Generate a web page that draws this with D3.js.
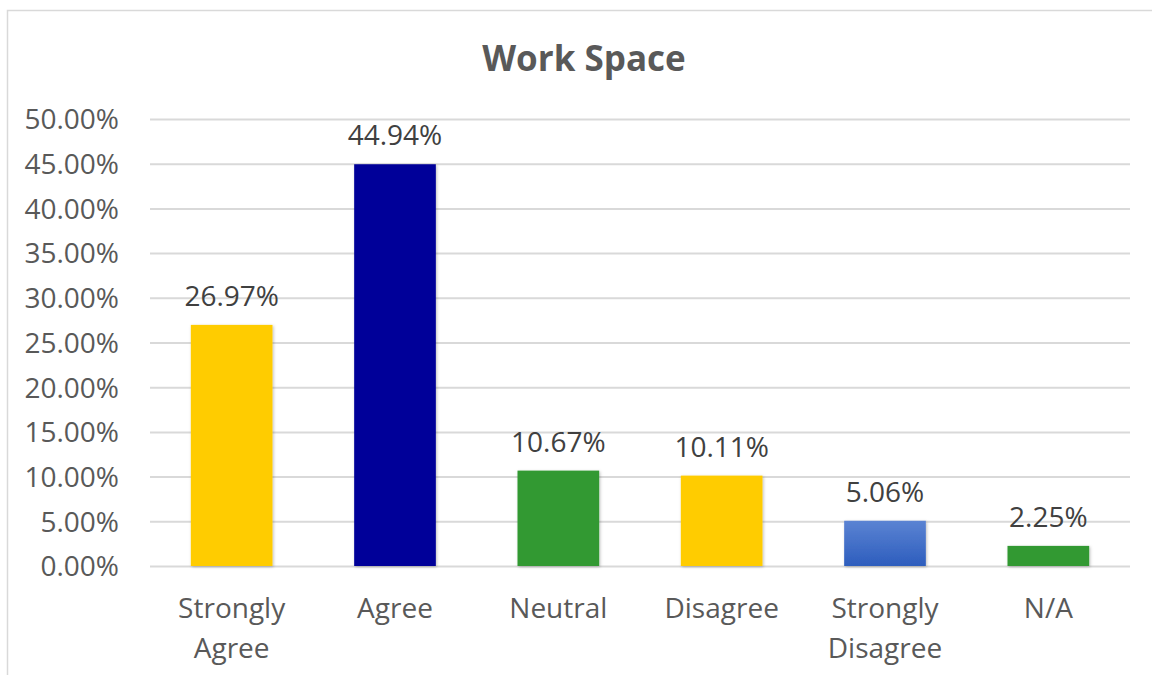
<!DOCTYPE html>
<html><head><meta charset="utf-8">
<script src="https://cdn.jsdelivr.net/npm/d3@7"></script>
<style>body{margin:0;background:#fff;}svg{display:block;font-family:"Open Sans",sans-serif;}</style>
</head><body><svg id="c" width="1152" height="675"></svg>
<script>
const categories = [["Strongly","Agree"],["Agree"],["Neutral"],["Disagree"],["Strongly","Disagree"],["N/A"]];
const values = [0.2697, 0.4494, 0.1067, 0.1011, 0.0506, 0.0225];
const colors = ["#FFCC00", "#000099", "#339933", "#FFCC00", "url(#blueGrad)", "#339933"];
const ticks = [0,0.05,0.10,0.15,0.20,0.25,0.30,0.35,0.40,0.45,0.50];
const title = "Work Space";

(function(){
const svg = d3.select("#c");
const defs = svg.append("defs");
const g1 = defs.append("linearGradient").attr("id","blueGrad").attr("x1",0).attr("y1",0).attr("x2",0).attr("y2",1);
g1.append("stop").attr("offset","0%").attr("stop-color","#5B83D3");
g1.append("stop").attr("offset","100%").attr("stop-color","#2D5DBD");
const f = defs.append("filter").attr("id","sh").attr("x","-20%").attr("y","-20%").attr("width","140%").attr("height","140%");
f.append("feDropShadow").attr("dx",1).attr("dy",1).attr("stdDeviation",1.5).attr("flood-color","#000").attr("flood-opacity",0.25);

svg.append("rect").attr("x",7.5).attr("y",10.5).attr("width",1160).attr("height",700)
  .attr("fill","#fff").attr("stroke","#d9d9d9").attr("stroke-width",1.5);

const mL=150, mR=1130, mT=119, mB=566;
const x = d3.scaleBand().domain(d3.range(values.length)).range([mL,mR]).paddingInner(0.5).paddingOuter(0.25);
const y = d3.scaleLinear().domain([0,0.5]).range([mB,mT]);

svg.append("text").attr("x",584).attr("y",71).attr("text-anchor","middle")
  .attr("font-size",35).attr("font-weight","bold").attr("fill","#595959").text(title);

const yAxis = svg.append("g").attr("transform",`translate(${mL},0)`)
  .call(d3.axisLeft(y).tickValues(ticks).tickFormat(d=>(d*100).toFixed(2)+"%").tickSize(-(mR-mL)).tickPadding(31));
yAxis.select(".domain").remove();
yAxis.selectAll(".tick line").attr("stroke","#d9d9d9").attr("stroke-width",2);
yAxis.selectAll(".tick text").attr("fill","#595959").attr("font-size",28).attr("font-family","'Open Sans',sans-serif").attr("dy","0.35em");

svg.selectAll("rect.bar").data(values).join("rect").attr("class","bar")
  .attr("x",(d,i)=>x(i)).attr("width",x.bandwidth())
  .attr("y",d=>y(d)).attr("height",d=>y(0)-y(d))
  .attr("fill",(d,i)=>colors[i]).attr("filter","url(#sh)");

svg.selectAll("text.val").data(values).join("text").attr("class","val")
  .attr("x",(d,i)=>x(i)+x.bandwidth()/2).attr("y",d=>y(d)-19)
  .attr("text-anchor","middle").attr("font-size",28).attr("fill","#404040")
  .text(d=>(d*100).toFixed(2)+"%");

const xl = svg.selectAll("text.cat").data(categories).join("text").attr("class","cat")
  .attr("text-anchor","middle").attr("font-size",28).attr("fill","#595959");
xl.each(function(lines,i){
  const t=d3.select(this);
  lines.forEach((l,j)=>t.append("tspan").attr("x",x(i)+x.bandwidth()/2).attr("y",618+j*40).text(l));
});
})();
</script></body></html>
